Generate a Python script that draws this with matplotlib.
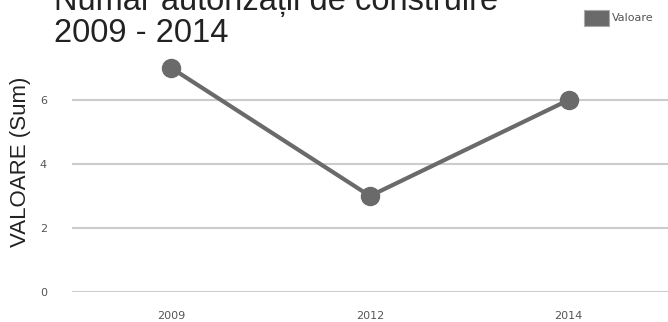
import matplotlib
matplotlib.use("Agg")
import matplotlib.pyplot as plt
from matplotlib.patches import Rectangle

ani = ["2009", "2012", "2014"]
valori = [7, 3, 6]
yticks = [0, 2, 4, 6]

plt.rcParams['font.family'] = ['Liberation Sans', 'DejaVu Sans']

fig = plt.figure(figsize=(6.68, 3.22), dpi=100)
ax = fig.add_axes([72 / 668, 30 / 322, 1 - 72 / 668, 256 / 322])

x = list(range(len(ani)))
ax.plot(x, valori, "-o", color="#6a6a6a", lw=3, ms=13, zorder=3)
ax.set_xlim(-0.5, 2.5)
ax.set_ylim(0, 8)
ax.set_xticks(x)
ax.set_xticklabels(ani, fontsize=8, color="#555555", family="DejaVu Sans")
ax.set_yticks(yticks)
ax.set_yticklabels([str(v) for v in yticks], fontsize=8, color="#555555", family="DejaVu Sans")
ax.tick_params(length=0)
ax.tick_params(axis="x", pad=14)
ax.tick_params(axis="y", pad=18)
for s in ax.spines.values():
    s.set_visible(False)
ax.grid(axis="y", color="#cccccc", lw=1.5)
ax.set_axisbelow(True)

fig.text(21 / 668, 1 - 162 / 322, "VALOARE (Sum)", rotation=90, fontsize=16,
         color="#222222", ha="center", va="center")
fig.text(54 / 668, 1 - 42 / 322, "Număr autorizații de construire\n2009 - 2014",
         fontsize=23.5, color="#222222", ha="left", va="baseline", linespacing=1.05)

fig.patches.append(Rectangle((584 / 668, 1 - 26 / 322), 25 / 668, 16 / 322,
                             transform=fig.transFigure, facecolor="#6a6a6a",
                             edgecolor="#aaaaaa", lw=0.8))
fig.text(612 / 668, 1 - 18 / 322, "Valoare", fontsize=8, color="#555555",
         ha="left", va="center", family="DejaVu Sans")

fig.savefig("out.png", dpi=100)
